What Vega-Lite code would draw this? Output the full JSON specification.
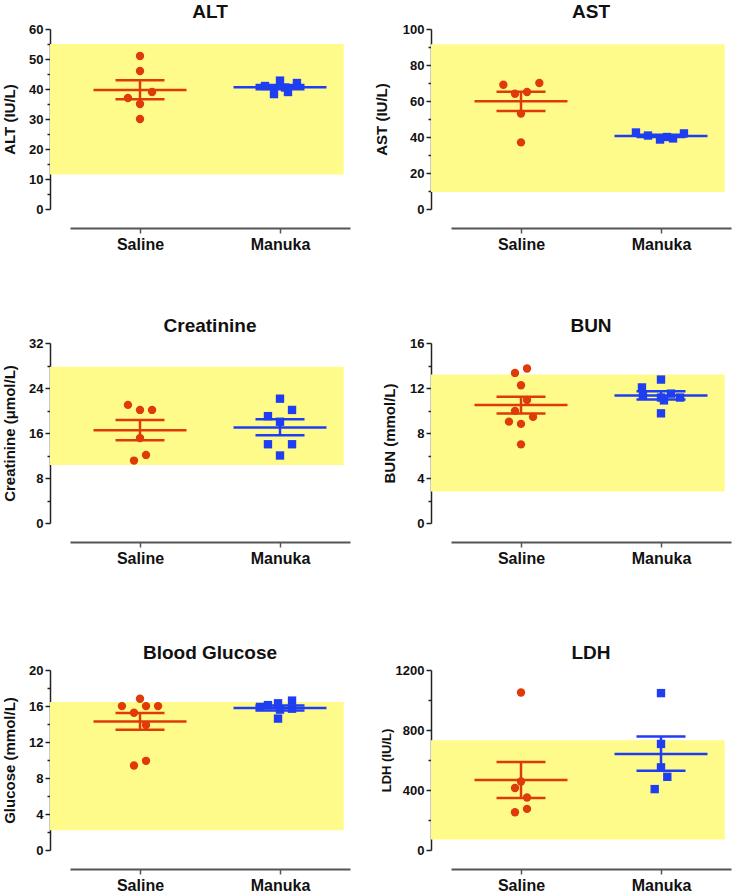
{
  "$schema": "https://vega.github.io/schema/vega-lite/v6.json",
  "background": "white",
  "padding": {"left": 2, "top": 2, "right": 5, "bottom": 2},
  "datasets": {
    "bands": [
      {"p": "ALT", "lo": 11.5, "hi": 55},
      {"p": "AST", "lo": 9.5, "hi": 91.5},
      {"p": "CRE", "lo": 10.3, "hi": 27.8},
      {"p": "BUN", "lo": 2.8, "hi": 13.2},
      {"p": "GLU", "lo": 2.2, "hi": 16.45},
      {"p": "LDH", "lo": 70, "hi": 731}
    ],
    "stats": [
      {"p": "ALT", "g": "Saline", "gx": 1, "m": 39.7, "lo": 36.6, "hi": 42.9},
      {"p": "ALT", "g": "Manuka", "gx": 2, "m": 40.6, "lo": 39.9, "hi": 41.3},
      {"p": "AST", "g": "Saline", "gx": 1, "m": 59.8, "lo": 54.5, "hi": 65.1},
      {"p": "AST", "g": "Manuka", "gx": 2, "m": 40.6, "lo": 40.0, "hi": 41.2},
      {"p": "CRE", "g": "Saline", "gx": 1, "m": 16.5, "lo": 14.7, "hi": 18.3},
      {"p": "CRE", "g": "Manuka", "gx": 2, "m": 17.0, "lo": 15.6, "hi": 18.45},
      {"p": "BUN", "g": "Saline", "gx": 1, "m": 10.48, "lo": 9.73, "hi": 11.22},
      {"p": "BUN", "g": "Manuka", "gx": 2, "m": 11.34, "lo": 10.97, "hi": 11.71},
      {"p": "GLU", "g": "Saline", "gx": 1, "m": 14.29, "lo": 13.36, "hi": 15.21},
      {"p": "GLU", "g": "Manuka", "gx": 2, "m": 15.77, "lo": 15.5, "hi": 16.05},
      {"p": "LDH", "g": "Saline", "gx": 1, "m": 466, "lo": 346, "hi": 587},
      {"p": "LDH", "g": "Manuka", "gx": 2, "m": 640, "lo": 529, "hi": 756}
    ],
    "pts": [
      {"p": "ALT", "g": "Saline", "x": 1.0, "v": 51},
      {"p": "ALT", "g": "Saline", "x": 1.0, "v": 46},
      {"p": "ALT", "g": "Saline", "x": 1.086, "v": 39},
      {"p": "ALT", "g": "Saline", "x": 0.914, "v": 37},
      {"p": "ALT", "g": "Saline", "x": 1.0, "v": 35},
      {"p": "ALT", "g": "Saline", "x": 1.0, "v": 30},
      {"p": "ALT", "g": "Manuka", "x": 1.893, "v": 41.0},
      {"p": "ALT", "g": "Manuka", "x": 1.957, "v": 38.3},
      {"p": "ALT", "g": "Manuka", "x": 2.0, "v": 42.8},
      {"p": "ALT", "g": "Manuka", "x": 2.036, "v": 40.5},
      {"p": "ALT", "g": "Manuka", "x": 2.057, "v": 39.0},
      {"p": "ALT", "g": "Manuka", "x": 2.121, "v": 42.0},
      {"p": "AST", "g": "Saline", "x": 0.874, "v": 69},
      {"p": "AST", "g": "Saline", "x": 1.131, "v": 70},
      {"p": "AST", "g": "Saline", "x": 0.957, "v": 64},
      {"p": "AST", "g": "Saline", "x": 1.043, "v": 65},
      {"p": "AST", "g": "Saline", "x": 1.0, "v": 53},
      {"p": "AST", "g": "Saline", "x": 1.0, "v": 37},
      {"p": "AST", "g": "Manuka", "x": 1.821, "v": 42.5},
      {"p": "AST", "g": "Manuka", "x": 1.907, "v": 40.8},
      {"p": "AST", "g": "Manuka", "x": 1.993, "v": 38.6},
      {"p": "AST", "g": "Manuka", "x": 2.043, "v": 40.0},
      {"p": "AST", "g": "Manuka", "x": 2.086, "v": 39.2},
      {"p": "AST", "g": "Manuka", "x": 2.164, "v": 42.0},
      {"p": "CRE", "g": "Saline", "x": 0.914, "v": 21.0},
      {"p": "CRE", "g": "Saline", "x": 1.0, "v": 20.1},
      {"p": "CRE", "g": "Saline", "x": 1.086, "v": 20.1},
      {"p": "CRE", "g": "Saline", "x": 1.0, "v": 15.1},
      {"p": "CRE", "g": "Saline", "x": 1.043, "v": 12.1},
      {"p": "CRE", "g": "Saline", "x": 0.957, "v": 11.1},
      {"p": "CRE", "g": "Manuka", "x": 2.0, "v": 22.1},
      {"p": "CRE", "g": "Manuka", "x": 2.086, "v": 20.1},
      {"p": "CRE", "g": "Manuka", "x": 1.914, "v": 19.0},
      {"p": "CRE", "g": "Manuka", "x": 2.0, "v": 18.0},
      {"p": "CRE", "g": "Manuka", "x": 1.914, "v": 14.0},
      {"p": "CRE", "g": "Manuka", "x": 2.086, "v": 14.0},
      {"p": "CRE", "g": "Manuka", "x": 2.0, "v": 12.0},
      {"p": "BUN", "g": "Saline", "x": 0.957, "v": 13.34},
      {"p": "BUN", "g": "Saline", "x": 1.043, "v": 13.73},
      {"p": "BUN", "g": "Saline", "x": 1.0, "v": 12.24},
      {"p": "BUN", "g": "Saline", "x": 1.043, "v": 10.93},
      {"p": "BUN", "g": "Saline", "x": 0.957, "v": 9.97},
      {"p": "BUN", "g": "Saline", "x": 0.914, "v": 9.01},
      {"p": "BUN", "g": "Saline", "x": 1.086, "v": 9.43},
      {"p": "BUN", "g": "Saline", "x": 1.0, "v": 8.81},
      {"p": "BUN", "g": "Saline", "x": 1.0, "v": 6.99},
      {"p": "BUN", "g": "Manuka", "x": 2.0, "v": 12.75},
      {"p": "BUN", "g": "Manuka", "x": 1.864, "v": 12.05},
      {"p": "BUN", "g": "Manuka", "x": 1.871, "v": 11.35},
      {"p": "BUN", "g": "Manuka", "x": 2.0, "v": 11.15},
      {"p": "BUN", "g": "Manuka", "x": 2.021, "v": 10.9},
      {"p": "BUN", "g": "Manuka", "x": 2.071, "v": 11.5},
      {"p": "BUN", "g": "Manuka", "x": 2.136, "v": 11.15},
      {"p": "BUN", "g": "Manuka", "x": 2.0, "v": 9.75},
      {"p": "GLU", "g": "Saline", "x": 1.0, "v": 16.81},
      {"p": "GLU", "g": "Saline", "x": 0.871, "v": 15.99},
      {"p": "GLU", "g": "Saline", "x": 1.043, "v": 15.99},
      {"p": "GLU", "g": "Saline", "x": 1.129, "v": 15.99},
      {"p": "GLU", "g": "Saline", "x": 0.957, "v": 15.25},
      {"p": "GLU", "g": "Saline", "x": 1.043, "v": 13.88},
      {"p": "GLU", "g": "Saline", "x": 1.043, "v": 9.91},
      {"p": "GLU", "g": "Saline", "x": 0.957, "v": 9.39},
      {"p": "GLU", "g": "Manuka", "x": 1.857, "v": 15.9},
      {"p": "GLU", "g": "Manuka", "x": 1.914, "v": 16.1},
      {"p": "GLU", "g": "Manuka", "x": 1.986, "v": 16.3},
      {"p": "GLU", "g": "Manuka", "x": 2.086, "v": 16.6},
      {"p": "GLU", "g": "Manuka", "x": 2.086, "v": 15.7},
      {"p": "GLU", "g": "Manuka", "x": 1.986, "v": 14.6},
      {"p": "GLU", "g": "Manuka", "x": 2.0, "v": 15.6},
      {"p": "LDH", "g": "Saline", "x": 1.0, "v": 1050},
      {"p": "LDH", "g": "Saline", "x": 1.0, "v": 457},
      {"p": "LDH", "g": "Saline", "x": 0.957, "v": 413},
      {"p": "LDH", "g": "Saline", "x": 1.043, "v": 350},
      {"p": "LDH", "g": "Saline", "x": 1.043, "v": 274},
      {"p": "LDH", "g": "Saline", "x": 0.957, "v": 252},
      {"p": "LDH", "g": "Manuka", "x": 2.0, "v": 1046},
      {"p": "LDH", "g": "Manuka", "x": 2.0, "v": 707},
      {"p": "LDH", "g": "Manuka", "x": 2.0, "v": 551},
      {"p": "LDH", "g": "Manuka", "x": 2.045, "v": 488},
      {"p": "LDH", "g": "Manuka", "x": 1.955, "v": 406}
    ]
  },
  "columns": 2,
  "bounds": "flush",
  "align": "each",
  "spacing": {"row": 134, "column": 101},
  "concat": [
    {
      "title": {"text": "ALT"},
      "width": 280, "height": 180,
      "resolve": {"axis": {"y": "independent"}},
      "layer": [
        {"data": {"name": "bands"}, "transform": [{"filter": "datum.p === 'ALT'"}],
         "mark": {"type": "rect", "color": "#fffb8a"},
         "encoding": {
           "x": {"datum": 0.357, "type": "quantitative", "scale": {"domain": [0.5, 2.5], "nice": false, "zero": false},
                 "axis": {"values": [1, 2], "labelExpr": "datum.value == 1 ? 'Saline' : 'Manuka'", "title": null}},
           "x2": {"datum": 2.455},
           "y": {"field": "lo", "type": "quantitative", "scale": {"domain": [0, 60], "nice": false, "zero": false},
                 "axis": {"title": "ALT (IU/L)", "titlePadding": 11, "values": [0,10,20,30,40,50,60]}},
           "y2": {"field": "hi"}}},
        {"data": {"name": "stats"}, "transform": [{"filter": "datum.p === 'ALT'"}],
         "mark": {"type": "rule", "strokeWidth": 2.5},
         "encoding": {"x": {"field": "gx", "type": "quantitative"}, "y": {"field": "lo", "type": "quantitative", "axis": null}, "y2": {"field": "hi"},
                      "color": {"field": "g", "type": "nominal", "scale": {"domain": ["Saline", "Manuka"], "range": ["#de3a0a", "#1f3ef0"]}, "legend": null}}},
        {"data": {"name": "stats"}, "transform": [{"filter": "datum.p === 'ALT'"}],
         "mark": {"type": "tick", "orient": "horizontal", "size": 93, "thickness": 2.5, "opacity": 1},
         "encoding": {"x": {"field": "gx", "type": "quantitative"}, "y": {"field": "m", "type": "quantitative", "axis": null}, "color": {"field": "g", "type": "nominal"}}},
        {"data": {"name": "stats"}, "transform": [{"filter": "datum.p === 'ALT'"}],
         "mark": {"type": "tick", "orient": "horizontal", "size": 49, "thickness": 2.5, "opacity": 1},
         "encoding": {"x": {"field": "gx", "type": "quantitative"}, "y": {"field": "lo", "type": "quantitative", "axis": null}, "color": {"field": "g", "type": "nominal"}}},
        {"data": {"name": "stats"}, "transform": [{"filter": "datum.p === 'ALT'"}],
         "mark": {"type": "tick", "orient": "horizontal", "size": 49, "thickness": 2.5, "opacity": 1},
         "encoding": {"x": {"field": "gx", "type": "quantitative"}, "y": {"field": "hi", "type": "quantitative", "axis": null}, "color": {"field": "g", "type": "nominal"}}},
        {"data": {"name": "pts"}, "transform": [{"filter": "datum.p === 'ALT'"}],
         "mark": {"type": "point", "filled": true, "size": 70, "opacity": 1},
         "encoding": {"x": {"field": "x", "type": "quantitative"},
                      "y": {"field": "v", "type": "quantitative", "axis": {"orient": "left", "values": [5,15,25,35,45,55], "labels": false, "domain": false, "title": null, "tickSize": 3}},
                      "color": {"field": "g", "type": "nominal"},
                      "shape": {"field": "g", "type": "nominal", "scale": {"domain": ["Saline", "Manuka"], "range": ["circle", "square"]}, "legend": null}}}
      ]
    },
    {
      "title": {"text": "AST"},
      "width": 280, "height": 180,
      "resolve": {"axis": {"y": "independent"}},
      "layer": [
        {"data": {"name": "bands"}, "transform": [{"filter": "datum.p === 'AST'"}],
         "mark": {"type": "rect", "color": "#fffb8a"},
         "encoding": {
           "x": {"datum": 0.357, "type": "quantitative", "scale": {"domain": [0.5, 2.5], "nice": false, "zero": false},
                 "axis": {"values": [1, 2], "labelExpr": "datum.value == 1 ? 'Saline' : 'Manuka'", "title": null}},
           "x2": {"datum": 2.455},
           "y": {"field": "lo", "type": "quantitative", "scale": {"domain": [0, 100], "nice": false, "zero": false},
                 "axis": {"title": "AST (IU/L)", "titlePadding": 13, "values": [0,20,40,60,80,100]}},
           "y2": {"field": "hi"}}},
        {"data": {"name": "stats"}, "transform": [{"filter": "datum.p === 'AST'"}],
         "mark": {"type": "rule", "strokeWidth": 2.5},
         "encoding": {"x": {"field": "gx", "type": "quantitative"}, "y": {"field": "lo", "type": "quantitative", "axis": null}, "y2": {"field": "hi"},
                      "color": {"field": "g", "type": "nominal", "scale": {"domain": ["Saline", "Manuka"], "range": ["#de3a0a", "#1f3ef0"]}, "legend": null}}},
        {"data": {"name": "stats"}, "transform": [{"filter": "datum.p === 'AST'"}],
         "mark": {"type": "tick", "orient": "horizontal", "size": 93, "thickness": 2.5, "opacity": 1},
         "encoding": {"x": {"field": "gx", "type": "quantitative"}, "y": {"field": "m", "type": "quantitative", "axis": null}, "color": {"field": "g", "type": "nominal"}}},
        {"data": {"name": "stats"}, "transform": [{"filter": "datum.p === 'AST'"}],
         "mark": {"type": "tick", "orient": "horizontal", "size": 49, "thickness": 2.5, "opacity": 1},
         "encoding": {"x": {"field": "gx", "type": "quantitative"}, "y": {"field": "lo", "type": "quantitative", "axis": null}, "color": {"field": "g", "type": "nominal"}}},
        {"data": {"name": "stats"}, "transform": [{"filter": "datum.p === 'AST'"}],
         "mark": {"type": "tick", "orient": "horizontal", "size": 49, "thickness": 2.5, "opacity": 1},
         "encoding": {"x": {"field": "gx", "type": "quantitative"}, "y": {"field": "hi", "type": "quantitative", "axis": null}, "color": {"field": "g", "type": "nominal"}}},
        {"data": {"name": "pts"}, "transform": [{"filter": "datum.p === 'AST'"}],
         "mark": {"type": "point", "filled": true, "size": 70, "opacity": 1},
         "encoding": {"x": {"field": "x", "type": "quantitative"},
                      "y": {"field": "v", "type": "quantitative", "axis": {"orient": "left", "values": [10,30,50,70,90], "labels": false, "domain": false, "title": null, "tickSize": 3}},
                      "color": {"field": "g", "type": "nominal"},
                      "shape": {"field": "g", "type": "nominal", "scale": {"domain": ["Saline", "Manuka"], "range": ["circle", "square"]}, "legend": null}}}
      ]
    },
    {
      "title": {"text": "Creatinine"},
      "width": 280, "height": 180,
      "resolve": {"axis": {"y": "independent"}},
      "layer": [
        {"data": {"name": "bands"}, "transform": [{"filter": "datum.p === 'CRE'"}],
         "mark": {"type": "rect", "color": "#fffb8a"},
         "encoding": {
           "x": {"datum": 0.357, "type": "quantitative", "scale": {"domain": [0.5, 2.5], "nice": false, "zero": false},
                 "axis": {"values": [1, 2], "labelExpr": "datum.value == 1 ? 'Saline' : 'Manuka'", "title": null}},
           "x2": {"datum": 2.455},
           "y": {"field": "lo", "type": "quantitative", "scale": {"domain": [0, 32], "nice": false, "zero": false},
                 "axis": {"title": "Creatinine (μmol/L)", "titlePadding": 11, "values": [0,8,16,24,32]}},
           "y2": {"field": "hi"}}},
        {"data": {"name": "stats"}, "transform": [{"filter": "datum.p === 'CRE'"}],
         "mark": {"type": "rule", "strokeWidth": 2.5},
         "encoding": {"x": {"field": "gx", "type": "quantitative"}, "y": {"field": "lo", "type": "quantitative", "axis": null}, "y2": {"field": "hi"},
                      "color": {"field": "g", "type": "nominal", "scale": {"domain": ["Saline", "Manuka"], "range": ["#de3a0a", "#1f3ef0"]}, "legend": null}}},
        {"data": {"name": "stats"}, "transform": [{"filter": "datum.p === 'CRE'"}],
         "mark": {"type": "tick", "orient": "horizontal", "size": 93, "thickness": 2.5, "opacity": 1},
         "encoding": {"x": {"field": "gx", "type": "quantitative"}, "y": {"field": "m", "type": "quantitative", "axis": null}, "color": {"field": "g", "type": "nominal"}}},
        {"data": {"name": "stats"}, "transform": [{"filter": "datum.p === 'CRE'"}],
         "mark": {"type": "tick", "orient": "horizontal", "size": 49, "thickness": 2.5, "opacity": 1},
         "encoding": {"x": {"field": "gx", "type": "quantitative"}, "y": {"field": "lo", "type": "quantitative", "axis": null}, "color": {"field": "g", "type": "nominal"}}},
        {"data": {"name": "stats"}, "transform": [{"filter": "datum.p === 'CRE'"}],
         "mark": {"type": "tick", "orient": "horizontal", "size": 49, "thickness": 2.5, "opacity": 1},
         "encoding": {"x": {"field": "gx", "type": "quantitative"}, "y": {"field": "hi", "type": "quantitative", "axis": null}, "color": {"field": "g", "type": "nominal"}}},
        {"data": {"name": "pts"}, "transform": [{"filter": "datum.p === 'CRE'"}],
         "mark": {"type": "point", "filled": true, "size": 70, "opacity": 1},
         "encoding": {"x": {"field": "x", "type": "quantitative"},
                      "y": {"field": "v", "type": "quantitative", "axis": {"orient": "left", "values": [4,12,20,28], "labels": false, "domain": false, "title": null, "tickSize": 3}},
                      "color": {"field": "g", "type": "nominal"},
                      "shape": {"field": "g", "type": "nominal", "scale": {"domain": ["Saline", "Manuka"], "range": ["circle", "square"]}, "legend": null}}}
      ]
    },
    {
      "title": {"text": "BUN"},
      "width": 280, "height": 180,
      "resolve": {"axis": {"y": "independent"}},
      "layer": [
        {"data": {"name": "bands"}, "transform": [{"filter": "datum.p === 'BUN'"}],
         "mark": {"type": "rect", "color": "#fffb8a"},
         "encoding": {
           "x": {"datum": 0.357, "type": "quantitative", "scale": {"domain": [0.5, 2.5], "nice": false, "zero": false},
                 "axis": {"values": [1, 2], "labelExpr": "datum.value == 1 ? 'Saline' : 'Manuka'", "title": null}},
           "x2": {"datum": 2.455},
           "y": {"field": "lo", "type": "quantitative", "scale": {"domain": [0, 16], "nice": false, "zero": false},
                 "axis": {"title": "BUN (mmol/L)", "titlePadding": 12, "values": [0,4,8,12,16]}},
           "y2": {"field": "hi"}}},
        {"data": {"name": "stats"}, "transform": [{"filter": "datum.p === 'BUN'"}],
         "mark": {"type": "rule", "strokeWidth": 2.5},
         "encoding": {"x": {"field": "gx", "type": "quantitative"}, "y": {"field": "lo", "type": "quantitative", "axis": null}, "y2": {"field": "hi"},
                      "color": {"field": "g", "type": "nominal", "scale": {"domain": ["Saline", "Manuka"], "range": ["#de3a0a", "#1f3ef0"]}, "legend": null}}},
        {"data": {"name": "stats"}, "transform": [{"filter": "datum.p === 'BUN'"}],
         "mark": {"type": "tick", "orient": "horizontal", "size": 93, "thickness": 2.5, "opacity": 1},
         "encoding": {"x": {"field": "gx", "type": "quantitative"}, "y": {"field": "m", "type": "quantitative", "axis": null}, "color": {"field": "g", "type": "nominal"}}},
        {"data": {"name": "stats"}, "transform": [{"filter": "datum.p === 'BUN'"}],
         "mark": {"type": "tick", "orient": "horizontal", "size": 49, "thickness": 2.5, "opacity": 1},
         "encoding": {"x": {"field": "gx", "type": "quantitative"}, "y": {"field": "lo", "type": "quantitative", "axis": null}, "color": {"field": "g", "type": "nominal"}}},
        {"data": {"name": "stats"}, "transform": [{"filter": "datum.p === 'BUN'"}],
         "mark": {"type": "tick", "orient": "horizontal", "size": 49, "thickness": 2.5, "opacity": 1},
         "encoding": {"x": {"field": "gx", "type": "quantitative"}, "y": {"field": "hi", "type": "quantitative", "axis": null}, "color": {"field": "g", "type": "nominal"}}},
        {"data": {"name": "pts"}, "transform": [{"filter": "datum.p === 'BUN'"}],
         "mark": {"type": "point", "filled": true, "size": 70, "opacity": 1},
         "encoding": {"x": {"field": "x", "type": "quantitative"},
                      "y": {"field": "v", "type": "quantitative", "axis": {"orient": "left", "values": [2,6,10,14], "labels": false, "domain": false, "title": null, "tickSize": 3}},
                      "color": {"field": "g", "type": "nominal"},
                      "shape": {"field": "g", "type": "nominal", "scale": {"domain": ["Saline", "Manuka"], "range": ["circle", "square"]}, "legend": null}}}
      ]
    },
    {
      "title": {"text": "Blood Glucose", "offset": -5.5},
      "width": 280, "height": 193,
      "resolve": {"axis": {"y": "independent"}},
      "layer": [
        {"data": {"name": "bands"}, "transform": [{"filter": "datum.p === 'GLU'"}],
         "mark": {"type": "rect", "color": "#fffb8a"},
         "encoding": {
           "x": {"datum": 0.357, "type": "quantitative", "scale": {"domain": [0.5, 2.5], "nice": false, "zero": false},
                 "axis": {"values": [1, 2], "labelExpr": "datum.value == 1 ? 'Saline' : 'Manuka'", "title": null}},
           "x2": {"datum": 2.455},
           "y": {"field": "lo", "type": "quantitative", "scale": {"domain": [0, 20], "nice": false, "zero": false, "range": [193, 13]},
                 "axis": {"title": "Glucose (mmol/L)", "titlePadding": 11, "values": [0,4,8,12,16,20]}},
           "y2": {"field": "hi"}}},
        {"data": {"name": "stats"}, "transform": [{"filter": "datum.p === 'GLU'"}],
         "mark": {"type": "rule", "strokeWidth": 2.5},
         "encoding": {"x": {"field": "gx", "type": "quantitative"}, "y": {"field": "lo", "type": "quantitative", "axis": null}, "y2": {"field": "hi"},
                      "color": {"field": "g", "type": "nominal", "scale": {"domain": ["Saline", "Manuka"], "range": ["#de3a0a", "#1f3ef0"]}, "legend": null}}},
        {"data": {"name": "stats"}, "transform": [{"filter": "datum.p === 'GLU'"}],
         "mark": {"type": "tick", "orient": "horizontal", "size": 93, "thickness": 2.5, "opacity": 1},
         "encoding": {"x": {"field": "gx", "type": "quantitative"}, "y": {"field": "m", "type": "quantitative", "axis": null}, "color": {"field": "g", "type": "nominal"}}},
        {"data": {"name": "stats"}, "transform": [{"filter": "datum.p === 'GLU'"}],
         "mark": {"type": "tick", "orient": "horizontal", "size": 49, "thickness": 2.5, "opacity": 1},
         "encoding": {"x": {"field": "gx", "type": "quantitative"}, "y": {"field": "lo", "type": "quantitative", "axis": null}, "color": {"field": "g", "type": "nominal"}}},
        {"data": {"name": "stats"}, "transform": [{"filter": "datum.p === 'GLU'"}],
         "mark": {"type": "tick", "orient": "horizontal", "size": 49, "thickness": 2.5, "opacity": 1},
         "encoding": {"x": {"field": "gx", "type": "quantitative"}, "y": {"field": "hi", "type": "quantitative", "axis": null}, "color": {"field": "g", "type": "nominal"}}},
        {"data": {"name": "pts"}, "transform": [{"filter": "datum.p === 'GLU'"}],
         "mark": {"type": "point", "filled": true, "size": 70, "opacity": 1},
         "encoding": {"x": {"field": "x", "type": "quantitative"},
                      "y": {"field": "v", "type": "quantitative", "axis": {"orient": "left", "values": [2,6,10,14,18], "labels": false, "domain": false, "title": null, "tickSize": 3}},
                      "color": {"field": "g", "type": "nominal"},
                      "shape": {"field": "g", "type": "nominal", "scale": {"domain": ["Saline", "Manuka"], "range": ["circle", "square"]}, "legend": null}}}
      ]
    },
    {
      "title": {"text": "LDH", "offset": -5.5},
      "width": 280, "height": 193,
      "resolve": {"axis": {"y": "independent"}},
      "layer": [
        {"data": {"name": "bands"}, "transform": [{"filter": "datum.p === 'LDH'"}],
         "mark": {"type": "rect", "color": "#fffb8a"},
         "encoding": {
           "x": {"datum": 0.357, "type": "quantitative", "scale": {"domain": [0.5, 2.5], "nice": false, "zero": false},
                 "axis": {"values": [1, 2], "labelExpr": "datum.value == 1 ? 'Saline' : 'Manuka'", "title": null}},
           "x2": {"datum": 2.455},
           "y": {"field": "lo", "type": "quantitative", "scale": {"domain": [0, 1200], "nice": false, "zero": false, "range": [193, 13]},
                 "axis": {"title": "LDH (IU/L)", "titleFontSize": 13, "titlePadding": 2, "values": [0,400,800,1200]}},
           "y2": {"field": "hi"}}},
        {"data": {"name": "stats"}, "transform": [{"filter": "datum.p === 'LDH'"}],
         "mark": {"type": "rule", "strokeWidth": 2.5},
         "encoding": {"x": {"field": "gx", "type": "quantitative"}, "y": {"field": "lo", "type": "quantitative", "axis": null}, "y2": {"field": "hi"},
                      "color": {"field": "g", "type": "nominal", "scale": {"domain": ["Saline", "Manuka"], "range": ["#de3a0a", "#1f3ef0"]}, "legend": null}}},
        {"data": {"name": "stats"}, "transform": [{"filter": "datum.p === 'LDH'"}],
         "mark": {"type": "tick", "orient": "horizontal", "size": 93, "thickness": 2.5, "opacity": 1},
         "encoding": {"x": {"field": "gx", "type": "quantitative"}, "y": {"field": "m", "type": "quantitative", "axis": null}, "color": {"field": "g", "type": "nominal"}}},
        {"data": {"name": "stats"}, "transform": [{"filter": "datum.p === 'LDH'"}],
         "mark": {"type": "tick", "orient": "horizontal", "size": 49, "thickness": 2.5, "opacity": 1},
         "encoding": {"x": {"field": "gx", "type": "quantitative"}, "y": {"field": "lo", "type": "quantitative", "axis": null}, "color": {"field": "g", "type": "nominal"}}},
        {"data": {"name": "stats"}, "transform": [{"filter": "datum.p === 'LDH'"}],
         "mark": {"type": "tick", "orient": "horizontal", "size": 49, "thickness": 2.5, "opacity": 1},
         "encoding": {"x": {"field": "gx", "type": "quantitative"}, "y": {"field": "hi", "type": "quantitative", "axis": null}, "color": {"field": "g", "type": "nominal"}}},
        {"data": {"name": "pts"}, "transform": [{"filter": "datum.p === 'LDH'"}],
         "mark": {"type": "point", "filled": true, "size": 70, "opacity": 1},
         "encoding": {"x": {"field": "x", "type": "quantitative"},
                      "y": {"field": "v", "type": "quantitative", "axis": {"orient": "left", "values": [200,600,1000], "labels": false, "domain": false, "title": null, "tickSize": 3}},
                      "color": {"field": "g", "type": "nominal"},
                      "shape": {"field": "g", "type": "nominal", "scale": {"domain": ["Saline", "Manuka"], "range": ["circle", "square"]}, "legend": null}}}
      ]
    }
  ],
  "config": {
    "font": "Liberation Sans",
    "view": {"stroke": null},
    "title": {"font": "Liberation Sans", "fontSize": 19, "fontWeight": "bold", "anchor": "middle", "frame": "group", "offset": 1.5, "baseline": "alphabetic", "color": "#111"},
    "axis": {"grid": false, "zindex": 1, "labelFont": "Liberation Sans", "labelFontWeight": "bold", "titleFont": "Liberation Sans", "titleFontWeight": "bold", "labelColor": "#111", "titleColor": "#111", "domainColor": "#222", "tickColor": "#222", "domainWidth": 1.5, "tickWidth": 1.5, "labelOverlap": false},
    "axisY": {"offset": 20, "tickSize": 5, "labelFontSize": 13, "labelPadding": 2, "titleFontSize": 15, "titlePadding": 8, "format": "d"},
    "axisX": {"offset": 19, "tickSize": 5, "labelFontSize": 16, "labelPadding": 3, "domainColor": "#555", "tickColor": "#555", "domainWidth": 2}
  }
}
